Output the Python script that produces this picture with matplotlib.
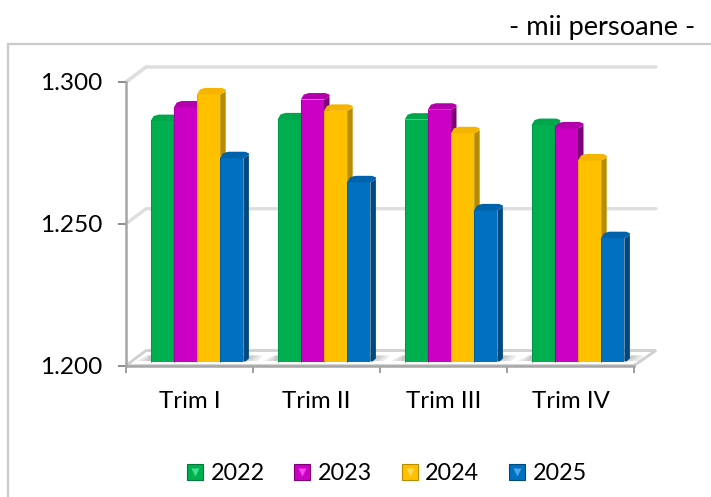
import matplotlib
matplotlib.use('Agg')
import matplotlib.pyplot as plt
from matplotlib.lines import Line2D
from matplotlib.patches import Polygon, Rectangle
from matplotlib.legend_handler import HandlerTuple
from matplotlib.transforms import Affine2D

plt.rcParams['font.family'] = ['Lato', 'DejaVu Sans']

# Date
trimestre = ['Trim I', 'Trim II', 'Trim III', 'Trim IV']
ani = ['2022', '2023', '2024', '2025']
v2022 = [1284.8, 1285.4, 1285.3, 1283.4]
v2023 = [1289.6, 1292.4, 1288.8, 1282.2]
v2024 = [1294.2, 1288.4, 1280.5, 1270.9]
v2025 = [1271.7, 1263.2, 1253.3, 1243.5]
serii = [v2022, v2023, v2024, v2025]

culori = ['#00b050', '#cc00c4', '#ffc000', '#0070c0']
capace = ['#00a64c', '#b400ac', '#f4b400', '#0062aa']
laturi = ['#007a38', '#7d0079', '#b98c00', '#00497f']
luciu = ['#3fe08c', '#f04ae8', '#ffdc60', '#4aa6e8']

W, H = 711, 497
fig = plt.figure(figsize=(W / 100, H / 100), dpi=100)
ax = fig.add_axes([126 / W, 1 - 365.5 / H, 508 / W, 283.5 / H])
ax.set_xlim(0, 4)
ax.set_ylim(1200, 1300)
ax.patch.set_visible(False)

# conversie pixeli -> unitati de date
ux = 4 / 508
uy = 100 / 283.5
DX, DY = 20, 15

# chenarul graficului
fig.add_artist(Rectangle((8 / W, -0.1), 1.1, 1 - 43.5 / H + 0.1, transform=fig.transFigure,
                         fill=False, edgecolor='#c9c9c9', linewidth=1.6))
fig.text(695 / W, 1 - 27 / H, '- mii persoane -', ha='right', va='center', fontsize=19.6, color='#000000')

# pereti si podea
gri = '#dedede'
for v in [1250, 1300]:
    ax.plot([0, DX * ux, 4 + 22 * ux], [v, v + DY * uy, v + DY * uy], color=gri, lw=2.4,
            clip_on=False, zorder=1, solid_capstyle='round')
podea = [(0, 1200), (DX * ux, 1200 + DY * uy), (4 + 22 * ux, 1200 + DY * uy), (4, 1200)]
ax.add_patch(Polygon(podea, closed=True, facecolor='#ffffff', edgecolor='#cfcfcf', lw=2,
                     clip_on=False, zorder=1))
ax.plot([0, DX * ux], [1300, 1300 + DY * uy], color=gri, lw=2.4, clip_on=False, zorder=1)

# umbre pe podea
for g in range(4):
    x0 = g + 7.5 * ux + 0.5 - 46 * ux
    for k, alfa in [(0, 0.22), (1, 0.24), (2, 0.26)]:
        ax.add_patch(Polygon([(x0 - (14 - 5 * k) * ux, 1200 + 4.5 * uy), (x0 - (4 - k) * ux, 1200 + 10 * uy),
                              (x0 + (112 - 4 * k) * ux, 1200 + 10 * uy), (x0 + (106 - 5 * k) * ux, 1200 + 4.5 * uy)],
                             closed=True, facecolor='#a0a0a0', alpha=alfa, edgecolor='none',
                             clip_on=False, zorder=1.5))

# coloane 3D
LATIME = 23.2
LAT = 5.5
deplasare = ax.transData + Affine2D().translate(7.5, 4)
for g in range(4):
    for s, serie in enumerate(serii):
        v = serie[g]
        x0 = g + 0.5 + (s - 2) * LATIME * ux
        x1 = x0 + LATIME * ux
        z = 2 + g + s * 0.1
        ax.bar(x0, v - 1200, bottom=1200, width=LATIME * ux, align='edge', color=culori[s],
               edgecolor='none', transform=deplasare, clip_on=False, zorder=z)
        # margine stanga mai inchisa
        ax.plot([x0, x0], [1200, v], color=laturi[s], lw=0.8, alpha=0.45, transform=deplasare,
                clip_on=False, zorder=z + 0.01)
        latura = [(x1, v), (x1 + LAT * ux, v + 3 * uy), (x1 + LAT * ux, 1200 + 3 * uy),
                  (x1 + 2 * ux, 1200), (x1, 1200)]
        ax.add_patch(Polygon(latura, closed=True, facecolor=laturi[s], edgecolor='none',
                             transform=deplasare, clip_on=False, zorder=z))
        capac = [(x0, v), (x0 + 3 * ux, v + 5 * uy), (x0 + 8 * ux, v + 6.5 * uy),
                 (x1 + 1.5 * ux, v + 6.5 * uy), (x1 + LAT * ux, v + 5 * uy), (x1 + LAT * ux, v + 3 * uy), (x1, v)]
        ax.add_patch(Polygon(capac, closed=True, facecolor=capace[s], edgecolor='none',
                             transform=deplasare, clip_on=False, zorder=z + 0.02))

# axe
for nume in ['top', 'right']:
    ax.spines[nume].set_visible(False)
for nume in ['left', 'bottom']:
    ax.spines[nume].set_color('#a6a6a6')
    ax.spines[nume].set_linewidth(1.8)
    ax.spines[nume].set_zorder(1.8)
ax.set_yticks([1200, 1250, 1300])
ax.set_yticklabels(['1.200', '1.250', '1.300'], fontsize=17.6, color='#000000')
ax.set_xticks([0, 1, 2, 3, 4])
ax.set_xticklabels([])
ax.tick_params(axis='y', length=6, width=1.4, color='#8c8c8c', pad=11)
ax.tick_params(axis='x', length=5, width=1.2, color='#8c8c8c')
ax.set_xticks([0.5, 1.5, 2.5, 3.5], minor=True)
ax.set_xticklabels(trimestre, minor=True, fontsize=17.3, color='#000000')
ax.tick_params(axis='x', which='minor', length=0, pad=18.5)

# legenda
handles = []
for s in range(4):
    patrat = Line2D([], [], linestyle='none', marker='s', markersize=11, markerfacecolor=culori[s],
                    markeredgecolor=laturi[s], markeredgewidth=0.8)
    vf = Line2D([], [], linestyle='none', marker='v', markersize=6, markerfacecolor=luciu[s],
                markeredgecolor='none')
    handles.append((patrat, vf))
fig.legend(handles, ani, handler_map={tuple: HandlerTuple(ndivide=1, pad=0)}, ncol=4, frameon=False,
           fontsize=16.8, loc='center', bbox_to_anchor=(385 / W, 1 - 474 / H), handlelength=1.0,
           handletextpad=0.16, columnspacing=1.12, labelcolor='#000000')

fig.savefig('out.png', dpi=100)
